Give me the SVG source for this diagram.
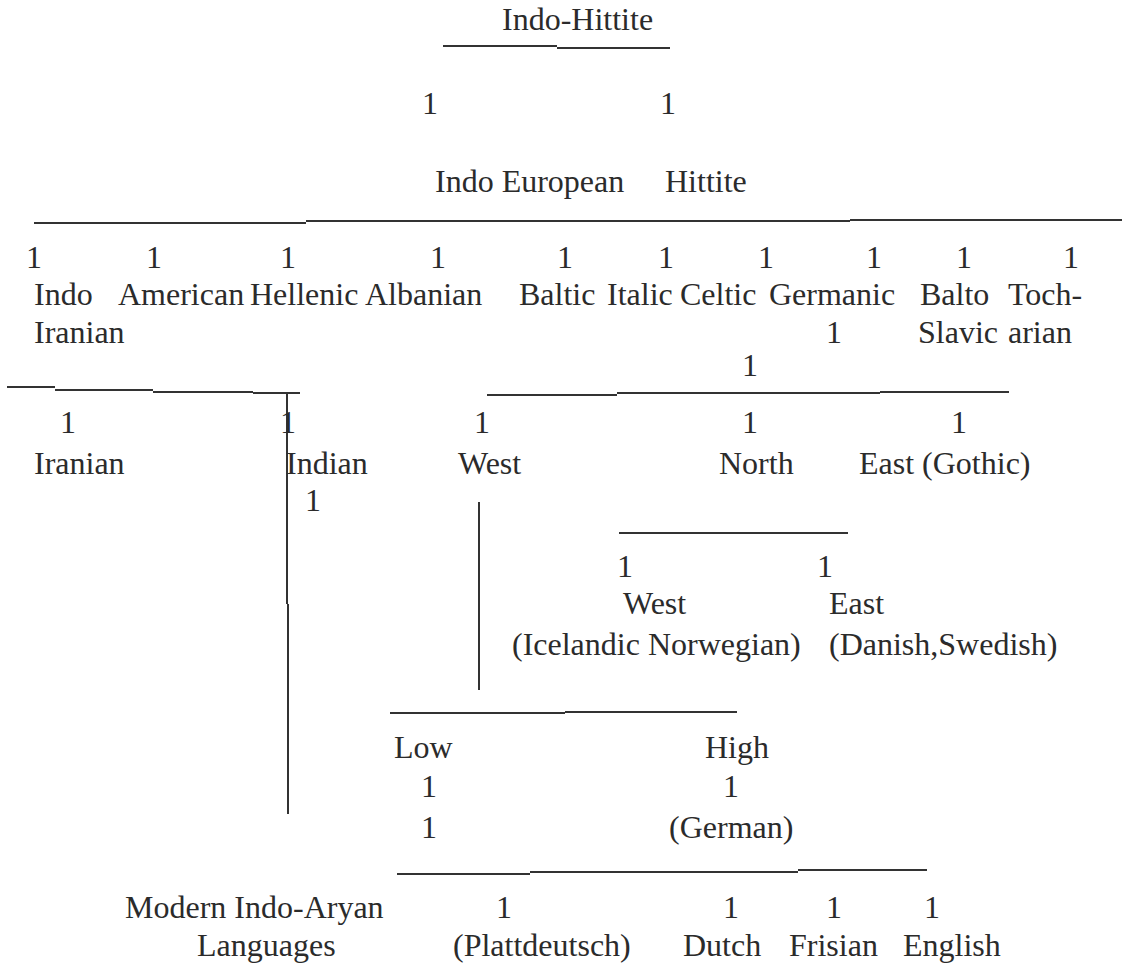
<svg xmlns="http://www.w3.org/2000/svg" width="1122" height="967" viewBox="0 0 1122 967" font-family="'Liberation Serif', Tinos, 'Times New Roman', 'Nimbus Roman', 'DejaVu Serif', serif">
<style>
text{font-family:"Liberation Serif",Tinos,"Times New Roman","Nimbus Roman","DejaVu Serif",serif;font-size:32px;fill:#2b2b2b}
.m{text-anchor:middle}
line{stroke:#333;stroke-width:2}
</style>
<rect width="1122" height="967" fill="#fff"/>
<g id="connectors">
<line x1="443" y1="46" x2="557" y2="46"/><line x1="557" y1="48" x2="670" y2="48"/>
<line x1="34" y1="223" x2="306" y2="223"/><line x1="306" y1="221" x2="850" y2="221"/><line x1="850" y1="220" x2="1122" y2="220"/>
<line x1="7" y1="387" x2="55" y2="387"/><line x1="55" y1="390" x2="153" y2="390"/><line x1="153" y1="392" x2="253" y2="392"/><line x1="253" y1="393" x2="300" y2="393"/>
<line x1="287" y1="392" x2="287" y2="604"/><line x1="288" y1="604" x2="288" y2="814"/>
<line x1="487" y1="395" x2="617" y2="395"/><line x1="617" y1="393" x2="880" y2="393"/><line x1="880" y1="392" x2="1009" y2="392"/>
<line x1="619" y1="533" x2="848" y2="533"/>
<line x1="479" y1="502" x2="479" y2="690"/>
<line x1="390" y1="713" x2="565" y2="713"/><line x1="565" y1="712" x2="737" y2="712"/>
<line x1="397" y1="874" x2="530" y2="874"/><line x1="530" y1="872" x2="798" y2="872"/><line x1="798" y1="870" x2="927" y2="870"/>
</g>
<g id="indo-hittite"><text x="502" y="30">Indo-Hittite</text></g>
<g id="level1-marks"><text class="m" x="430" y="114">1</text><text class="m" x="668" y="114">1</text></g>
<g id="indo-european"><text x="435" y="192">Indo European</text></g>
<g id="hittite"><text x="665" y="192">Hittite</text></g>
<g id="level2-marks">
<text class="m" x="34" y="268">1</text><text class="m" x="154" y="268">1</text><text class="m" x="288" y="268">1</text><text class="m" x="438" y="268">1</text><text class="m" x="565" y="268">1</text><text class="m" x="666" y="268">1</text><text class="m" x="766" y="268">1</text><text class="m" x="874" y="268">1</text><text class="m" x="964" y="268">1</text><text class="m" x="1071" y="268">1</text>
</g>
<g id="indo-iranian"><text x="34" y="305">Indo</text><text x="34" y="343">Iranian</text></g>
<g id="american"><text x="118" y="305">American</text></g>
<g id="hellenic"><text x="250" y="305">Hellenic</text></g>
<g id="albanian"><text x="365" y="305">Albanian</text></g>
<g id="baltic"><text x="519" y="305">Baltic</text></g>
<g id="italic"><text x="607" y="305">Italic</text></g>
<g id="celtic"><text x="680" y="305">Celtic</text></g>
<g id="germanic"><text x="769" y="305">Germanic</text><text class="m" x="834" y="343">1</text><text class="m" x="750" y="376">1</text></g>
<g id="balto-slavic"><text x="920" y="305">Balto</text><text x="918" y="343">Slavic</text></g>
<g id="tocharian"><text x="1008" y="305">Toch-</text><text x="1008" y="343">arian</text></g>
<g id="level3-marks">
<text class="m" x="68" y="433">1</text><text class="m" x="288" y="433">1</text><text class="m" x="482" y="433">1</text><text class="m" x="750" y="433">1</text><text class="m" x="959" y="433">1</text>
</g>
<g id="iranian"><text x="34" y="474">Iranian</text></g>
<g id="indian"><text x="286" y="474">Indian</text><text class="m" x="313" y="511">1</text></g>
<g id="west-germanic"><text x="458" y="474">West</text></g>
<g id="north-germanic"><text x="719" y="474">North</text></g>
<g id="east-gothic"><text x="859" y="474">East (Gothic)</text></g>
<g id="north-marks"><text class="m" x="625" y="577">1</text><text class="m" x="825" y="577">1</text></g>
<g id="west-norse"><text x="623" y="614">West</text><text x="512" y="655">(Icelandic Norwegian)</text></g>
<g id="east-norse"><text x="829" y="614">East</text><text x="829" y="655">(Danish,Swedish)</text></g>
<g id="low"><text x="394" y="758">Low</text><text class="m" x="429" y="797">1</text><text class="m" x="429" y="838">1</text></g>
<g id="high"><text x="705" y="758">High</text><text class="m" x="731" y="797">1</text><text x="669" y="838">(German)</text></g>
<g id="modern-indo-aryan"><text x="125" y="918">Modern Indo-Aryan</text><text x="197" y="956">Languages</text></g>
<g id="plattdeutsch"><text class="m" x="504" y="918">1</text><text x="453" y="956">(Plattdeutsch)</text></g>
<g id="dutch"><text class="m" x="731" y="918">1</text><text x="683" y="956">Dutch</text></g>
<g id="frisian"><text class="m" x="834" y="918">1</text><text x="789" y="956">Frisian</text></g>
<g id="english"><text class="m" x="932" y="918">1</text><text x="903" y="956">English</text></g>
</svg>
